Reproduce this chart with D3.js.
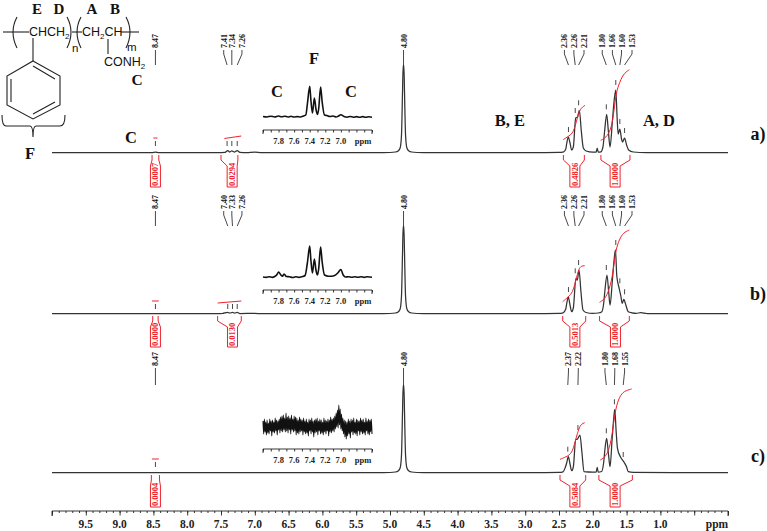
<!DOCTYPE html>
<html><head><meta charset="utf-8">
<script src="https://cdn.jsdelivr.net/npm/d3@7/dist/d3.min.js"></script>
<style>html,body{margin:0;padding:0;background:#fff}svg{display:block}text{font-family:"Liberation Serif",serif;font-weight:bold}</style>
</head><body><svg id="c" width="767" height="531"></svg>
<script>
// ---- DATA: [ppm, intensity]
const sharedPeak = [[5.2,0.3],[5.0,0.5],[4.92,1],[4.88,2],[4.85,5],[4.83,18],[4.815,60],[4.805,88],[4.795,88],[4.785,60],[4.77,18],[4.75,5],[4.72,2],[4.68,1],[4.6,0.5],[4.4,0.3]];
const spectrumA = [[10,0.3],[9.2,0.3],[8.52,0.3],[8.47,1],[8.42,0.3],[7.6,0.3],[7.5,0.4],[7.44,0.6],[7.40,2.4],[7.37,1],[7.34,2.2],[7.30,1],[7.26,2.4],[7.22,0.6],[7.12,0.4],[7.0,0.9],[6.9,0.3],[6.0,0.3],...sharedPeak,[3.6,0.3],[2.9,0.3],[2.5,0.6],[2.43,1.2],[2.40,4],[2.387,9],[2.362,16],[2.337,10],[2.313,3],[2.288,6],[2.253,35],[2.225,36],[2.199,42.7],[2.17,22],[2.14,5],[2.10,2],[2.0,0.8],[1.95,0.8],[1.935,5],[1.92,1],[1.88,1.2],[1.85,6],[1.825,22],[1.795,38.7],[1.77,22],[1.745,6],[1.71,32],[1.685,52],[1.66,63],[1.64,35],[1.625,19],[1.60,24],[1.575,14],[1.56,11],[1.53,15],[1.50,8],[1.47,3],[1.40,1],[1.2,0.4],[0.8,0.3],[0,0.3]];
const spectrumB = [[10,0.3],[8.52,0.3],[8.47,0.5],[8.42,0.3],[7.55,0.3],[7.48,0.5],[7.40,1.6],[7.37,0.8],[7.33,1.6],[7.30,0.8],[7.26,1.6],[7.22,0.5],[7.0,0.6],[6.9,0.3],[6.0,0.3],...sharedPeak,[3.6,0.3],[2.9,0.3],[2.5,0.6],[2.44,1.2],[2.40,5],[2.387,10],[2.362,17],[2.337,9],[2.313,2.3],[2.288,6],[2.25,35.7],[2.229,34],[2.204,44],[2.175,22],[2.145,4],[2.10,1.5],[2.0,0.6],[1.92,1],[1.87,2],[1.84,10],[1.82,24],[1.79,39],[1.765,22],[1.745,9],[1.71,34],[1.685,54],[1.665,64],[1.645,38],[1.61,25.7],[1.585,18],[1.565,10.7],[1.54,14.7],[1.52,11],[1.475,2.3],[1.42,1.2],[1.36,0.7],[1.29,1.3],[1.2,0.5],[0.8,0.3],[0,0.3]];
const spectrumC = [[10,0.3],[8.52,0.3],[8.47,0.5],[8.42,0.3],[7.0,0.3],[6.0,0.3],...sharedPeak,[3.6,0.3],[2.9,0.3],[2.5,0.6],[2.44,1.2],[2.41,5],[2.387,10],[2.362,16.3],[2.337,9],[2.313,2.3],[2.288,6],[2.253,33.7],[2.234,33.7],[2.19,38],[2.16,20],[2.13,1.3],[2.0,0.8],[1.95,0.8],[1.935,5.7],[1.92,0.8],[1.87,1.5],[1.84,10],[1.82,24],[1.795,34.7],[1.77,20],[1.745,6.3],[1.715,33],[1.69,55],[1.675,63.7],[1.655,42],[1.635,24.7],[1.59,16],[1.54,11],[1.50,6],[1.475,1.3],[1.40,0.6],[0.8,0.3],[0,0.3]];

const integralA1 = [[2.436,13.3],[2.362,16.7],[2.303,19.3],[2.263,26],[2.229,35.3],[2.189,44.3],[2.115,47.7]];
const integralA2 = [[1.884,12.7],[1.805,15.3],[1.736,22.7],[1.696,36],[1.661,57.7],[1.622,67.7],[1.548,79.3],[1.46,83.3]];
const integralB1 = [[2.445,12.3],[2.362,17.3],[2.298,21.3],[2.25,34],[2.204,45.7],[2.17,48],[2.12,48.3]];
const integralB2 = [[1.90,11.7],[1.805,15.7],[1.736,29],[1.696,44],[1.661,64],[1.607,74.7],[1.548,81.3],[1.46,84]];
const integralC1 = [[2.485,13.7],[2.362,17],[2.298,21.3],[2.25,34.7],[2.204,44.7],[2.17,49],[2.12,50.3]];
const integralC2 = [[1.89,13],[1.805,16.3],[1.736,28],[1.696,48],[1.661,64.7],[1.607,76.3],[1.538,82],[1.425,84]];

const labelsA = ["8.47","7.41","7.34","7.26","4.80","2.36","2.26","2.21","1.80","1.66","1.60","1.53"];
const labelsB = ["8.47","7.40","7.33","7.26","4.80","2.36","2.26","2.21","1.80","1.66","1.60","1.53"];
const labelsC = ["8.47","4.80","2.37","2.22","1.80","1.68","1.55"];
const slotsAB = [8.47,7.46,7.34,7.19,4.80,2.42,2.28,2.13,1.86,1.71,1.575,1.42];
const slotsC = [8.47,4.80,2.36,2.215,1.82,1.675,1.53];
const dashTopA = [null,null,null,null,null,16,35,42.7,38.7,63,24,15];
const dashTopB = [null,null,null,null,null,17,35.7,44,39,64,25.7,14.7];
const dashTopC = [null,null,16.3,38,34.7,63.7,11];

const integralLabelsA = ["0.0007","0.0294","0.4826","1.0000"];
const integralLabelsB = ["0.0000","0.0130","0.5013","1.0000"];
const integralLabelsC = ["0.0004","0.5084","1.0000"];
const regionsA = [[8.52,8.47,8.42],[7.50,7.335,7.25],[2.435,2.265,2.125],[1.88,1.67,1.45]];
const regionsB = [[8.51,8.47,8.43],[7.55,7.33,7.20],[2.445,2.265,2.105],[1.90,1.665,1.46]];
const regionsC = [[8.53,8.47,8.41],[2.485,2.265,2.105],[1.91,1.67,1.415]];

const insetA = [[8.0,1.5],[7.95,1],[7.9,1.8],[7.85,1],[7.8,2],[7.76,1.2],[7.72,1.8],[7.68,1],[7.64,1.7],[7.6,1],[7.56,1.4],[7.52,1],[7.48,2],[7.45,3],[7.43,14],[7.40,31.7],[7.385,18],[7.365,5],[7.34,20],[7.32,9],[7.30,3.5],[7.285,9],[7.26,31],[7.24,16],[7.21,3],[7.18,2.5],[7.14,1.5],[7.1,2],[7.06,1],[7.03,2],[7.0,3.2],[6.96,1.5],[6.92,0.8],[6.88,1.5],[6.84,0.8],[6.8,1.4],[6.76,0.8],[6.72,1.4],[6.68,0.7],[6.64,1.3],[6.6,0.8]];
const insetB = [[8.0,1],[7.96,0.6],[7.92,1.2],[7.88,0.6],[7.85,1.5],[7.82,3.5],[7.8,6],[7.77,3],[7.75,1.8],[7.73,4],[7.7,1.5],[7.66,1.2],[7.62,0.5],[7.58,1.2],[7.54,0.6],[7.5,1.3],[7.46,2.5],[7.43,15],[7.40,32],[7.385,18],[7.365,5],[7.34,19],[7.32,8],[7.30,3],[7.285,9],[7.26,31],[7.24,16],[7.21,3],[7.16,1.8],[7.12,1.8],[7.08,2.4],[7.04,5],[7.0,8.5],[6.97,3],[6.94,1],[6.9,1.2],[6.86,0.8],[6.82,1.2],[6.78,0.7],[6.74,1.3],[6.7,0.6],[6.66,1.2],[6.6,0.7]];
const insetCNoise = [6,-7,8,-5,5,-8,7,-6,4,-7,8,-4,6,-9,7,-5,5,-6,9,-4,7,-8,6,-3,8,-6,10,-4,11,-5,12,-3,9,-5,14,-4,10,-6,11,-3,9,-7,12,-3,8,-5,11,-4,10,-8,9,-6,7,-7,10,-5,8,-4,7,-8,9,-5,6,-7,8,-6,5,-9,8,-4,7,-7,9,-5,6,-10,7,-6,8,-5,9,-8,6,-4,8,-7,7,-6,5,-8,9,-5,7,-7,6,-4,8,-9,7,-5,10,-6,8,-4,9,-5,11,-2,14,0,17,-1,22,2,18,-2,13,-4,9,-7,7,-10,6,-12,5,-9,8,-7,6,-11,8,-5,7,-8,9,-6,5,-7,8,-9,7,-4,6,-8,9,-5,7,-7,8,-6,5,-8,9,-4,6,-7,8,-8,7,-5,8,-7];
const insetTicks = [7.8,7.6,7.4,7.2,7.0];
const axisMajor = d3.range(10,-0.01,-0.5).map(v=>+v.toFixed(1));
const axisLabels = [9.5,9,8.5,8,7.5,7,6.5,6,5.5,5,4.5,4,3.5,3,2.5,2,1.5,1];
const panelNames = ["a)","b)","c)"];

// ---- DRAW
const svg = d3.select("#c");
const x = d3.scaleLinear().domain([10,0]).range([52,728]);
const yOf = base => d3.scaleLinear().domain([0,100]).range([base,base-100]);
const grey="#333", red="#f0202c";

function spectrum(data, base){
  const y=yOf(base);
  svg.append("path").datum(data).attr("fill","none").attr("stroke",grey).attr("stroke-width",1.25)
    .attr("d",d3.line().x(d=>x(d[0])).y(d=>y(d[1])).curve(d3.curveMonotoneX));
}
function integral(data, base){
  const y=yOf(base);
  svg.append("path").datum(data).attr("fill","none").attr("stroke",red).attr("stroke-width",1)
    .attr("d",d3.line().x(d=>x(d[0])).y(d=>y(d[1])).curve(d3.curveBasis));
}
function peakLabels(labels, slots, top, bottom, textBottom, dashes, base){
  const y=yOf(base);
  labels.forEach((t,i)=>{
    const tx=x(slots[i]), tg=x(+t);
    svg.append("text").attr("transform",`translate(${tx+3},${textBottom}) rotate(-90)`).attr("font-size",8).attr("fill","#111").text(t);
    svg.append("path").attr("fill","none").attr("stroke",grey).attr("stroke-width",0.9)
      .attr("d",`M${tx},${top}V${top+4}L${tg},${bottom}`);
    if(dashes[i]!=null) svg.append("line").attr("x1",tg).attr("x2",tg).attr("y1",y(dashes[i]+10)).attr("y2",y(dashes[i]+5)).attr("stroke",grey).attr("stroke-width",0.9);
  });
}
function bracket(reg, label, base, wInner, bottom){
  const [p0,pc,p1]=reg, a=x(p0), b=x(p1), c=x(pc);
  const l=c-wInner, r=c+wInner, s=base+2, m=base+7, n=base+13;
  svg.append("path").attr("fill","none").attr("stroke",red).attr("stroke-width",1)
    .attr("d",`M${a},${s}V${m}L${l},${n}V${bottom}H${r}V${n}L${b},${m}V${s}`);
  svg.append("text").attr("transform",`translate(${c+3},${bottom-1}) rotate(-90)`).attr("font-size",8.5).attr("fill",red).text(label);
}
function smallMarks(list, topY, redFrom, redTo, y0, y1){
  list.forEach(p=>svg.append("line").attr("x1",x(p)).attr("x2",x(p)).attr("y1",topY).attr("y2",topY+5).attr("stroke",grey).attr("stroke-width",0.9));
  svg.append("line").attr("x1",x(redFrom)).attr("x2",x(redTo)).attr("y1",y0).attr("y2",y1).attr("stroke",red).attr("stroke-width",1);
}

const baseA=153, baseB=314, baseC=473;
spectrum(spectrumA,baseA); spectrum(spectrumB,baseB); spectrum(spectrumC,baseC);
integral(integralA1,baseA); integral(integralA2,baseA);
integral(integralB1,baseB); integral(integralB2,baseB);
integral(integralC1,baseC); integral(integralC2,baseC);

peakLabels(labelsA,slotsAB,50,65,48,dashTopA,baseA);
peakLabels(labelsB,slotsAB,211,226,209,dashTopB,baseB);
peakLabels(labelsC,slotsC,368,385,366,dashTopC,baseC);

integralLabelsA.forEach((t,i)=>bracket(regionsA[i],t,baseA,5,187));
integralLabelsB.forEach((t,i)=>bracket(regionsB[i],t,baseB,5,347));
integralLabelsC.forEach((t,i)=>bracket(regionsC[i],t,baseC,5,507));

smallMarks([8.47],141,8.50,8.44,138,138);
smallMarks([7.41,7.34,7.26],141,7.45,7.2,138.5,136);
smallMarks([8.47],304,8.52,8.42,301,301);
smallMarks([7.40,7.33,7.26],304,7.55,7.2,303,301);
smallMarks([8.47],462,8.52,8.42,459,459);

// insets
const ix=d3.scaleLinear().domain([8.0,6.6]).range([263,372]);
function insetAxis(axisY){
  const g=svg.append("g").attr("transform",`translate(0,${axisY})`);
  g.call(d3.axisBottom(ix).tickValues(d3.range(0,15).map(i=>8-i*0.1)).tickSize(2.5).tickFormat(""));
  g.selectAll("path,line").attr("stroke","#222").attr("stroke-width",0.9);
  g.select(".domain").attr("d",`M263,4V0H372V4`);
  insetTicks.forEach(t=>svg.append("text").attr("x",ix(t)).attr("y",axisY+14).attr("text-anchor","middle").attr("font-size",8.5).attr("fill","#222").text(t.toFixed(1)));
  svg.append("text").attr("x",363).attr("y",axisY+14).attr("text-anchor","middle").attr("font-size",8.5).attr("fill","#222").text("ppm");
}
function insetLine(data, base, w){
  const y=yOf(base);
  svg.append("path").datum(data).attr("fill","none").attr("stroke","#111").attr("stroke-width",w)
    .attr("d",d3.line().x(d=>ix(d[0])).y(d=>y(d[1])).curve(d3.curveMonotoneX));
}
insetLine(insetA,118,1.6); insetAxis(130);
insetLine(insetB,278,1.6); insetAxis(290);
const idx=d3.scaleLinear().domain([0,insetCNoise.length-1]).range([8.0,6.6]);
insetLine(insetCNoise.map((v,i)=>[idx(i),v]),427,1.1); insetAxis(449);

// main axis
const ag=svg.append("g").attr("transform","translate(0,511)");
ag.call(d3.axisBottom(x).tickValues(d3.range(0,101).map(i=>i/10)).tickSize(2).tickFormat(""));
ag.call(g=>g.select(".domain").attr("d","M52,5V0H728V5"));
const ag2=svg.append("g").attr("transform","translate(0,511)");
ag2.call(d3.axisBottom(x).tickValues(axisMajor).tickSize(4.5).tickFormat("")).select(".domain").remove();
ag.selectAll("line,path").attr("stroke","#222").attr("stroke-width",0.9);
ag2.selectAll("line").attr("stroke","#222").attr("stroke-width",0.9);
axisLabels.forEach(v=>svg.append("text").attr("x",x(v)).attr("y",528).attr("text-anchor","middle").attr("font-size",11.5).attr("fill","#222").text(v.toFixed(1)));
svg.append("text").attr("x",717).attr("y",528).attr("text-anchor","middle").attr("font-size",11.5).attr("fill","#222").text("ppm");

// assignment letters
const big=(t,px,py,fs=16.5)=>svg.append("text").attr("x",px).attr("y",py).attr("text-anchor","middle").attr("font-size",fs).attr("fill","#111").text(t);
[["E",37,14,15],["D",59,14,15],["A",92,14,15],["B",115,14,15],["C",137,85,15.5],["F",30,159],["C",131,143],
 ["F",314,64],["C",277,97],["C",351,97],["B, E",510,126],["A, D",659,126]].forEach(d=>big(d[0],d[1],d[2],d[3]||16.5));
panelNames.forEach((t,i)=>big(t,758,[140,300,462][i],18));

// structure
const sL=(d,w=1.1)=>svg.append("path").attr("d",d).attr("fill","none").attr("stroke","#222").attr("stroke-width",w);
const sT=(px,py,fs=12.5)=>svg.append("text").attr("x",px).attr("y",py).style("font-family","'Liberation Sans',sans-serif").style("font-weight","normal").attr("font-size",fs).attr("fill","#111");
function chem(px,py,parts){const t=sT(px,py);parts.forEach(p=>{const s=t.append("tspan").text(p[0]);if(p[1]){s.attr("font-size",8).attr("dy",2.5);}else if(p[2]){s.attr("dy",-2.5);}});}
sL("M3,32H29"); sL("M72,32H82"); sL("M121,32H139");
sL("M17,17Q9,32 17,48"); sL("M67,17Q75,32 67,48"); sL("M81,17Q73,32 81,48"); sL("M126,17Q134,32 126,48");
chem(29,36,[["CHCH"],["2",1]]);
chem(82,36,[["CH"],["2",1],["CH",0,1]]);
chem(104,66,[["CONH"],["2",1]]);
sT(72,52,11.5).text("n"); sT(127,51,11.5).text("m");
sL("M108,39V54"); sL("M33,38V61");
sL("M33,61L60,76V105L33,119L7,105V76Z"); sL("M33,66L55,79M55,102L33,114M11,102V79");
sL("M2,115Q2,126 6,126H30Q33,126 33,137Q33,126 36,126H60Q65,126 65,115");
</script></body></html>
